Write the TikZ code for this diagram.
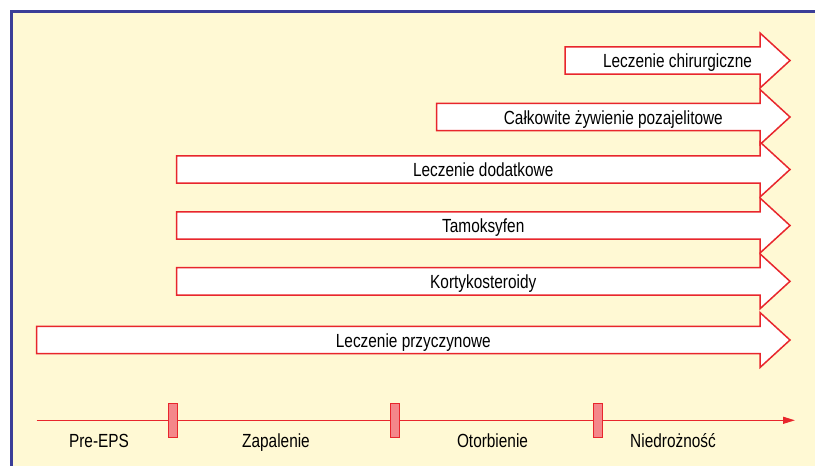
\documentclass[tikz,border=0pt]{standalone}
\usepackage{fontspec}
\setmainfont{Liberation Sans}[FakeStretch=0.81]
\usetikzlibrary{arrows.meta}
\definecolor{cream}{HTML}{FFF9D4}
\definecolor{frameblue}{HTML}{3B3E98}
\definecolor{arred}{HTML}{E8262C}
\definecolor{tickfill}{HTML}{F4878A}
\tikzset{
  arrowshape/.style={draw=arred, fill=white, line width=1.5pt, line join=miter},
  lbl/.style={font=\fontsize{19}{22}\selectfont, anchor=base, inner sep=0pt},
  tickbox/.style={draw=arred, fill=tickfill, line width=1.2pt, minimum width=9pt, minimum height=34pt, inner sep=0pt},
  timeline/.style={draw=arred, line width=1.3pt, -{Triangle[length=12pt,width=7pt]}},
}
\newcommand\therarrow[4]{%
  \path[arrowshape] (#2,#3-13.7) -- (760,#3-13.7) -- (760,#3-27.5) -- (790,#3) -- (760,#3+27.5) -- (760,#3+13.7) -- (#2,#3+13.7) -- cycle;
  \node[lbl] (#1) at ({(#2+790)/2},#3+7) {#4};
}
\begin{document}
\begin{tikzpicture}[x=1pt,y=-1pt]
\useasboundingbox (0,0) rectangle (815,466);
\fill[white] (0,0) rectangle (815,466);
\fill[cream] (11.3,11.8) rectangle (815,466);
\draw[frameblue, line width=2.8pt] (11.3,466) -- (11.3,11.8) -- (815,11.8);

\therarrow{a1}{565}{60.5}{Leczenie chirurgiczne}
\therarrow{a2}{436.7}{117}{Całkowite żywienie pozajelitowe}
\therarrow{a3}{176.5}{169.5}{Leczenie dodatkowe}
\therarrow{a4}{176.5}{225.5}{Tamoksyfen}
\therarrow{a5}{176.5}{281.3}{Kortykosteroidy}
\therarrow{a6}{36.7}{340}{Leczenie przyczynowe}

\coordinate (tl0) at (36.7,420.3);
\coordinate (tl1) at (795,420.3);
\draw[timeline] (tl0) -- (tl1);
\node[tickbox] (t1) at (173.2,420.5) {};
\node[tickbox] (t2) at (394.8,420.5) {};
\node[tickbox] (t3) at (598,420.5) {};

\node[lbl] (p1) at (99,447.7) {Pre-EPS};
\node[lbl] (p2) at (276,447.7) {Zapalenie};
\node[lbl] (p3) at (492.5,447.7) {Otorbienie};
\node[lbl] (p4) at (673,447.7) {Niedrożność};
\end{tikzpicture}
\end{document}
